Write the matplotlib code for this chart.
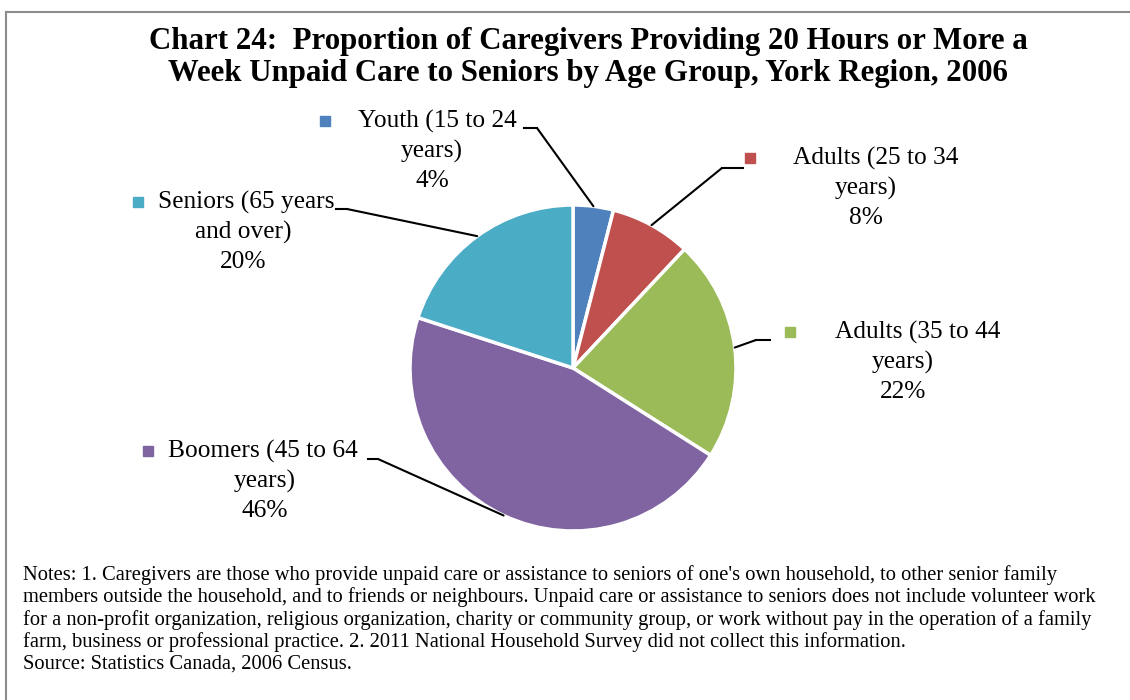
import numpy as np
import matplotlib
matplotlib.use('Agg')
import matplotlib.pyplot as plt
import matplotlib.transforms as mtransforms
from matplotlib.patches import Rectangle
from matplotlib.lines import Line2D

# data
categories = ['Youth (15 to 24 years)', 'Adults (25 to 34 years)', 'Adults (35 to 44 years)',
              'Boomers (45 to 64 years)', 'Seniors (65 years and over)']
values = [4, 8, 22, 46, 20]
label_first = ['Youth (15 to 24', 'Adults (25 to 34', 'Adults (35 to 44', 'Boomers (45 to 64', 'Seniors (65 years']
label_second = ['years)', 'years)', 'years)', 'years)', 'and over)']

colors = ['#4F81BD', '#C0504D', '#9BBB59', '#8064A2', '#4BACC6']

title_lines = ['Chart 24:  Proportion of Caregivers Providing 20 Hours or More a',
               'Week Unpaid Care to Seniors by Age Group, York Region, 2006']
notes = ["Notes: 1. Caregivers are those who provide unpaid care or assistance to seniors of one's own household, to other senior family",
         "members outside the household, and to friends or neighbours. Unpaid care or assistance to seniors does not include volunteer work",
         "for a non-profit organization, religious organization, charity or community group, or work without pay in the operation of a family",
         "farm, business or professional practice. 2. 2011 National Household Survey did not collect this information.",
         "Source: Statistics Canada, 2006 Census."]

# layout (pixels, measured from top-left)
W, H = 1130, 700
cx, cy, R = 573, 368, 163
# marker x, first line left x, center x of lower lines, first line y
label_pos = [(325, 358, 432, 121),
             (750, 793, 866, 158),
             (790, 835, 903, 332),
             (148, 168, 265, 451),
             (138, 158, 243, 202)]
# elbow point and end of horizontal leader segment
leader_pts = [((537, 128), (524, 128)),
              ((722, 168), (743, 168)),
              ((756, 340), (770, 340)),
              ((378, 459), (368, 459)),
              ((347, 209), (336, 209))]

plt.rcParams['font.family'] = 'Liberation Serif'

fig = plt.figure(figsize=(W / 100, H / 100), dpi=100)
px = mtransforms.Affine2D().scale(1 / W, -1 / H).translate(0, 1) + fig.transFigure

# border (top and left)
fig.add_artist(Line2D([6, W], [12, 12], transform=px, color='#8c8c8c', lw=1.5))
fig.add_artist(Line2D([6, 6], [12, H], transform=px, color='#8c8c8c', lw=1.5))

for i, line in enumerate(title_lines):
    fig.text(588, 41 + i * 33, line, transform=px, ha='center', va='center', fontsize=22.2,
             fontweight='bold')

########################################
# pie
ax = fig.add_axes([(cx - R) / W, (H - cy - R) / H, 2 * R / W, 2 * R / H])
wedges, _ = ax.pie(values, colors=colors, startangle=90, counterclock=False, radius=1,
                   wedgeprops=dict(edgecolor='white', linewidth=2.5))
ax.set_xlim(-1, 1)
ax.set_ylim(-1, 1)
ax.set_aspect('equal')
ax.axis('off')

# labels with leader lines
for ind, w in enumerate(wedges):
    mx, lx, cx2, ly = label_pos[ind]
    fig.add_artist(Rectangle((mx - 5, ly - 5), 10, 10, transform=px, color=colors[ind]))
    fig.text(lx, ly, label_first[ind], transform=px, ha='left', va='center', fontsize=18.3)
    fig.text(cx2, ly + 30, label_second[ind], transform=px, ha='center', va='center', fontsize=18.3)
    fig.text(cx2, ly + 60, f'{values[ind]}%', transform=px, ha='center', va='center', fontsize=18.3)

    ang = np.deg2rad((w.theta1 + w.theta2) / 2)
    elbow, end = leader_pts[ind]
    ax.annotate('', xy=(np.cos(ang), np.sin(ang)), xycoords='data', xytext=elbow, textcoords=px,
                arrowprops=dict(arrowstyle='-', color='black', lw=1.5, shrinkA=0, shrinkB=0),
                annotation_clip=False)
    fig.add_artist(Line2D([elbow[0], end[0]], [elbow[1], end[1]], transform=px, color='black', lw=1.5))

# notes
for i, line in enumerate(notes):
    fig.text(23, 575 + i * 22.3, line, transform=px, ha='left', va='center', fontsize=14.8)

plt.savefig('out.png', dpi=100)
